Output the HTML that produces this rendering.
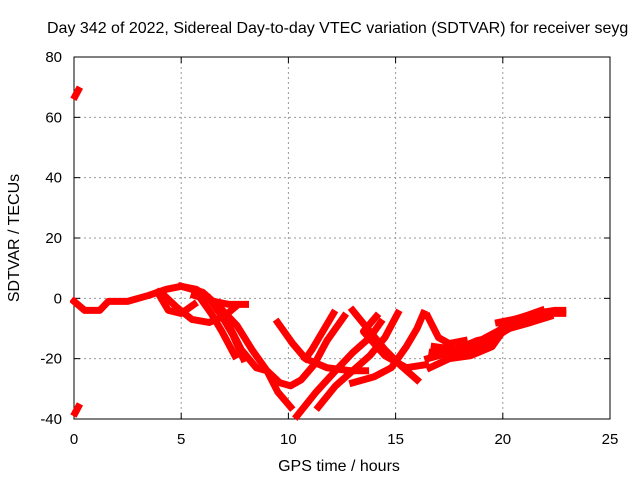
<!DOCTYPE html>
<html><head><meta charset="utf-8"><style>
body{margin:0;background:#fff}
svg{display:block;font-family:"Liberation Sans",sans-serif}
</style></head><body>
<svg id="chart" width="640" height="480" viewBox="0 0 640 480">
<text x="47" y="33" font-size="16">Day 342 of 2022, Sidereal Day-to-day VTEC variation (SDTVAR) for receiver seyg</text>
<g id="grid"></g>
<g id="axes"></g>
<g id="series" clip-path="url(#clip)"></g>
<defs><clipPath id="clip"><rect x="70" y="50" width="545" height="375"/></clipPath></defs>
<text x="339" y="471" font-size="16" text-anchor="middle">GPS time / hours</text>
<text transform="translate(19,238) rotate(-90)" font-size="16" text-anchor="middle">SDTVAR / TECUs</text>
</svg>
<script>
const xTicks=[0,5,10,15,20,25];
const yTicks=[-40,-20,0,20,40,60,80];
const trackA=[[0,-1],[0.5,-4],[1.2,-4],[1.6,-1],[2.5,-1],[3.5,1],[4.3,3],[5,4],[5.7,3],[6.3,0],[6.8,-4],[7.3,-10],[7.8,-17],[8.5,-23],[9,-24],[9.6,-28],[10.1,-29],[10.6,-27],[11.2,-22],[11.8,-14],[12.3,-9],[12.6,-6]];
const trackB=[[4.2,1],[4.8,-3],[5.5,-7],[6.3,-8],[7,-6],[7.5,-3]];
const trackB2=[[3.9,2],[4.4,-4],[5,-5],[5.6,-2]];
const trackC=[[5,4],[6,2],[6.8,-3],[7.6,-9],[8.3,-17],[9,-24],[9.5,-31],[10.1,-36]];
const trackD1=[[5.9,0],[6.4,-5],[6.9,-11],[7.5,-19]];
const trackD2=[[6.3,0],[6.9,-6],[7.4,-12],[7.9,-20]];
const trackE=[[5.6,1],[6.5,-1],[7.2,-2],[8,-2]];
const trackF=[[9.5,-8],[10.2,-15],[10.8,-20],[11.8,-23],[12.9,-24],[13.6,-24]];
const trackV=[[12.1,-5],[11.6,-11],[11.1,-17],[10.8,-20]];
const trackG1=[[10.4,-39],[11.3,-31],[12.2,-24],[13,-18],[13.8,-13],[14.3,-8]];
const trackG2=[[11.4,-36],[12.2,-29],[13,-24],[13.8,-19],[14.5,-13],[15.1,-5]];
const trackH=[[13,-28],[14,-26],[14.8,-23],[15.5,-16],[16,-10],[16.3,-5]];
const trackI=[[13,-4],[13.8,-11],[14.5,-17],[15.2,-22],[16,-27]];
const trackJ=[[14.1,-6],[13.5,-11],[14.5,-19],[15.5,-23],[16.4,-22]];
const trackK=[[16.5,-6],[17,-13],[17.5,-15],[18.2,-14]];
const trackR1=[[16.5,-20],[17.5,-18],[18.5,-16],[19.2,-13],[20,-10],[21,-7],[22,-5],[22.8,-5]];
const trackR2=[[16.8,-16],[17.8,-17],[18.8,-14],[19.5,-13],[20.2,-8],[21,-6],[21.8,-4]];
const trackR3=[[16.6,-23],[17.5,-20],[18.5,-19],[19.5,-16],[20,-11],[20.6,-9]];
const trackR4=[[16.7,-18],[17.6,-19],[18.6,-17],[19.4,-14],[20.3,-10],[21.3,-8],[22.2,-6]];
const trackR5=[[19.8,-8],[20.5,-7],[21.5,-5],[22.4,-4],[22.8,-4]];
const trackP1=[[0.05,67],[0.2,69]];
const trackP2=[[0.05,-38],[0.2,-36]];
const tracks=[trackA,trackB,trackB2,trackC,trackD1,trackD2,trackE,trackF,trackV,trackG1,trackG2,trackH,trackI,trackJ,trackK,trackR1,trackR2,trackR3,trackR4,trackR5,trackP1,trackP2];
const NS='http://www.w3.org/2000/svg';
const X0=74,X1=610,Y0=419,Y1=57;
const xs=v=>X0+(v-0)/25*(X1-X0);
const ys=v=>Y0-(v+40)/120*(Y0-Y1);
function mk(t,a,p){const e=document.createElementNS(NS,t);for(const k in a)e.setAttribute(k,a[k]);p.appendChild(e);return e;}
const grid=document.getElementById('grid'),axes=document.getElementById('axes'),ser=document.getElementById('series');
xTicks.forEach(t=>{
 if(t>0&&t<25){const l=mk('line',{x1:xs(t),x2:xs(t),y1:Y0,y2:Y1,stroke:'#999','stroke-dasharray':'2,3'},grid);
 
 }
 mk('line',{x1:xs(t),x2:xs(t),y1:Y0,y2:Y0-6,stroke:'#000'},axes);
 mk('line',{x1:xs(t),x2:xs(t),y1:Y1,y2:Y1+6,stroke:'#000'},axes);
 const tx=mk('text',{x:xs(t),y:Y0+25,'font-size':15,'text-anchor':'middle'},axes);tx.textContent=t;
 
 
});
yTicks.forEach(t=>{
 if(t>-40&&t<80){const l=mk('line',{x1:X0,x2:X1,y1:ys(t),y2:ys(t),stroke:'#999','stroke-dasharray':'2,3'},grid);
 
 }
 mk('line',{x1:X0,x2:X0+6,y1:ys(t),y2:ys(t),stroke:'#000'},axes);
 mk('line',{x1:X1,x2:X1-6,y1:ys(t),y2:ys(t),stroke:'#000'},axes);
 const tx=mk('text',{x:X0-12,y:ys(t)+5,'font-size':15,'text-anchor':'end'},axes);tx.textContent=t;
 
 
});
const fr=mk('rect',{x:X0,y:Y1,width:X1-X0,height:Y0-Y1,fill:'none',stroke:'#000'},axes);


tracks.forEach(tr=>{
 const p=mk('polyline',{points:tr.map(d=>xs(d[0])+','+ys(d[1])).join(' '),fill:'none',stroke:'#f00','stroke-width':7,'stroke-linejoin':'round','stroke-linecap':'square'},ser);
 
 
});
</script>
</body></html>
